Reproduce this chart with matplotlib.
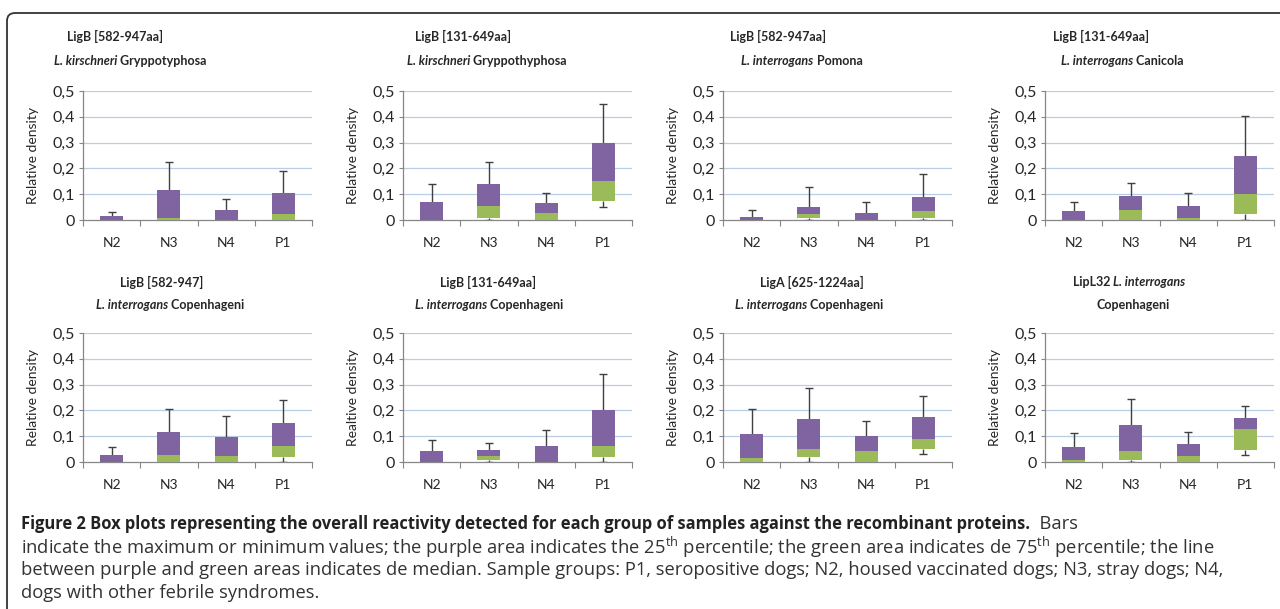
import numpy as np
import matplotlib.pyplot as plt
from matplotlib.patches import FancyBboxPatch
from matplotlib.transforms import IdentityTransform

plt.rcParams['font.family'] = ['Lato', 'DejaVu Sans']
plt.rcParams['mathtext.fontset'] = 'custom'
plt.rcParams['mathtext.rm'] = 'Open Sans'

groups = ['N2', 'N3', 'N4', 'P1']

# title pieces: (text, italic?)
title1 = [[('LigB [582-947aa]', False)], [('LigB [131-649aa]', False)],
          [('LigB [582-947aa]', False)], [('LigB [131-649aa]', False)],
          [('LigB [582-947]', False)], [('LigB [131-649aa]', False)],
          [('LigA [625-1224aa]', False)], [('LipL32 ', False), ('L. interrogans', True)]]
title2 = [[('L. kirschneri', True), (' Gryppotyphosa', False)],
          [('L. kirschneri', True), (' Gryppothyphosa', False)],
          [('L. interrogans', True), (' Pomona', False)],
          [('L. interrogans', True), (' Canicola', False)],
          [('L. interrogans', True), (' Copenhageni', False)],
          [('L. interrogans', True), (' Copenhageni', False)],
          [('L. interrogans', True), (' Copenhageni', False)],
          [('Copenhageni', False)]]
ylabels = ['Relative density'] * 5 + ['Realtive density'] + ['Relative density'] * 2

# per panel: values for N2, N3, N4, P1
mins = [[0, 0, 0, 0],
        [0, 0, 0, 0.052],
        [0, 0, 0, 0],
        [0, 0, 0, 0],
        [0, 0, 0, 0],
        [0, 0, 0, 0],
        [0, 0, 0, 0.032],
        [0, 0, 0, 0.026]]
q1s = [[0, 0, 0, 0],
       [0, 0.008, 0, 0.073],
       [0, 0.006, 0, 0.009],
       [0, 0, 0, 0.022],
       [0, 0, 0, 0.021],
       [0, 0.006, 0, 0.018],
       [0, 0.018, 0, 0.050],
       [0, 0.009, 0, 0.045]]
medians = [[0, 0.009, 0, 0.025],
           [0, 0.054, 0.026, 0.153],
           [0, 0.025, 0, 0.036],
           [0, 0.039, 0.006, 0.100],
           [0, 0.026, 0.022, 0.063],
           [0, 0.023, 0, 0.061],
           [0.017, 0.049, 0.044, 0.089],
           [0.006, 0.041, 0.023, 0.126]]
q3s = [[0.014, 0.117, 0.039, 0.105],
       [0.070, 0.140, 0.065, 0.300],
       [0.010, 0.049, 0.027, 0.091],
       [0.034, 0.093, 0.053, 0.250],
       [0.027, 0.115, 0.098, 0.152],
       [0.043, 0.046, 0.062, 0.202],
       [0.110, 0.168, 0.099, 0.174],
       [0.058, 0.143, 0.068, 0.171]]
maxs = [[0.030, 0.225, 0.083, 0.188],
        [0.140, 0.225, 0.105, 0.451],
        [0.039, 0.127, 0.070, 0.177],
        [0.071, 0.144, 0.105, 0.402],
        [0.057, 0.205, 0.177, 0.241],
        [0.086, 0.075, 0.125, 0.343],
        [0.206, 0.287, 0.157, 0.256],
        [0.113, 0.245, 0.115, 0.218]]

purple = '#8064A2'
green = '#9BBB59'
grid_c = '#B9CDE5'
axis_c = '#868686'
whisk_c = '#404040'
txt_c = '#262626'

W, H = 1280, 609
fig = plt.figure(figsize=(12.8, 6.09), dpi=100)
renderer = fig.canvas.get_renderer()


def pieces(xc, yc, segs, size, weight='bold', family=None):
    """draw text segments side by side, centred on xc (pixels)"""
    ts = []
    for s, it in segs:
        ts.append(fig.text(0, 1 - yc / H, s, fontsize=size, fontweight=weight,
                           fontstyle='italic' if it else 'normal', va='center',
                           color=txt_c, family=family or plt.rcParams['font.family']))
    ws = [t.get_window_extent(renderer).width for t in ts]
    x0 = xc - sum(ws) / 2
    for t, w in zip(ts, ws):
        t.set_x(x0 / W)
        x0 += w


lefts = [83, 403, 723, 1045]
tops = [91, 333]
ax_w, ax_h = 229, 129
t1_x = [115, 463, 778, 1101, 162, 488, 812, 1129]
t2_x = [130, 487, 802, 1122, 170, 489, 809, 1133]
t_y = [(36, 61), (282, 305)]

x = np.arange(4)
for i in range(8):
    r, c = divmod(i, 4)
    ax = fig.add_axes([lefts[c] / W, 1 - (tops[r] + ax_h) / H, ax_w / W, ax_h / H])
    lo = np.array(q1s[i]); md = np.array(medians[i]); hi = np.array(q3s[i])
    mn = np.array(mins[i]); mx = np.array(maxs[i])
    # whiskers
    ax.vlines(x, hi, mx, color=whisk_c, lw=1, zorder=2)
    ax.hlines(mx, x - 0.07, x + 0.07, color=whisk_c, lw=1, zorder=2)
    low = lo > mn
    ax.vlines(x[low], mn[low], lo[low], color=whisk_c, lw=1, zorder=2)
    ax.hlines(mn[low], x[low] - 0.07, x[low] + 0.07, color=whisk_c, lw=1, zorder=2)
    # boxes
    ax.bar(x, md - lo, 0.4, bottom=lo, color=green, zorder=3)
    ax.bar(x, hi - md, 0.4, bottom=md, color=purple, zorder=3)

    ax.set_xlim(-0.5, 3.5)
    ax.set_ylim(0, 0.5)
    ax.set_yticks(np.arange(0, 0.51, 0.1))
    ax.set_yticklabels(['0', '0,1', '0,2', '0,3', '0,4', '0,5'], fontsize=11.5, color=txt_c)
    ax.set_xticks(np.arange(-0.5, 3.6, 1))
    ax.set_xticklabels([])
    ax.set_xticks(x, minor=True)
    ax.set_xticklabels(groups, minor=True, fontsize=10, color=txt_c)
    ax.tick_params(axis='x', which='major', length=4, color=axis_c, direction='out')
    ax.tick_params(axis='x', which='minor', length=0, pad=12)
    ax.tick_params(axis='y', length=3, color=axis_c, pad=3)
    for yv in np.arange(0.1, 0.51, 0.1):
        ax.axhline(yv, color=grid_c, lw=0.9, zorder=1)
    for s in ['top', 'right']:
        ax.spines[s].set_visible(False)
    for s in ['left', 'bottom']:
        ax.spines[s].set_color(axis_c)
        ax.spines[s].set_linewidth(0.9)
    ax.set_ylabel(ylabels[i], fontsize=10, color=txt_c)
    ax.yaxis.set_label_coords(-0.19, 0.5)

    y1, y2 = t_y[r]
    pieces(t1_x[i], y1, title1[i], 9)
    pieces(t2_x[i], y2, title2[i], 9)

# caption
cap_font = ['Open Sans', 'DejaVu Sans']
cap_x = 21 / W
bold = fig.text(cap_x, 1 - 524 / H,
                'Figure 2 Box plots representing the overall reactivity detected for each group of samples against the recombinant proteins.',
                fontsize=11.9, fontweight='bold', family=cap_font, va='center', color='#222222')
bb = bold.get_window_extent(renderer)
fig.text(bb.x1 / W, 1 - 524 / H, '  Bars', fontsize=13.2, family=cap_font, va='center',
         color='#333333')
lines = [r'indicate the maximum or minimum values; the purple area indicates the 25$^{\rm th}$ percentile; the green area indicates de 75$^{\rm th}$ percentile; the line',
         'between purple and green areas indicates de median. Sample groups: P1, seropositive dogs; N2, housed vaccinated dogs; N3, stray dogs; N4,',
         'dogs with other febrile syndromes.']
for k, txt in enumerate(lines):
    fig.text(cap_x, 1 - (547 + 23 * k) / H, txt, fontsize=13.2, family=cap_font,
             va='center', color='#333333')

# frame
frame = FancyBboxPatch((7, -30), 1320, H - 13 + 30, boxstyle='round,pad=0,rounding_size=8',
                       transform=IdentityTransform(), fill=False, ec='#333333', lw=1.3)
fig.patches.append(frame)

fig.savefig('out.png', dpi=100)
